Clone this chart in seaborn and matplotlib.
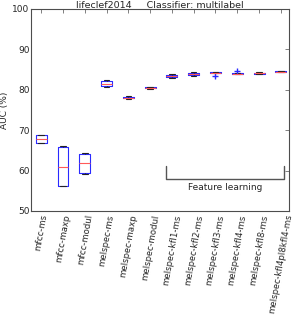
import numpy as np
import pandas as pd
import matplotlib
matplotlib.use("Agg")
import matplotlib.pyplot as plt
import seaborn as sns

# Feature sets (x categories)
features = ['mfcc-ms', 'mfcc-maxp', 'mfcc-modul', 'melspec-ms', 'melspec-maxp',
            'melspec-modul', 'melspec-kfl1-ms', 'melspec-kfl2-ms', 'melspec-kfl3-ms',
            'melspec-kfl4-ms', 'melspec-kfl8-ms', 'melspec-kfl4pl8kfl4-ms']

# AUC (%) per run
auc_mfcc_ms = [66.8, 66.9, 67.9, 68.8, 68.9]
auc_mfcc_maxp = [56.1, 56.1, 60.9, 65.9, 66.0]
auc_mfcc_modul = [59.1, 59.3, 61.8, 64.2, 64.4]
auc_melspec_ms = [80.6, 81.0, 81.5, 82.2, 82.4]
auc_melspec_maxp = [77.6, 77.9, 78.0, 78.2, 78.5]
auc_melspec_modul = [80.3, 80.4, 80.5, 80.7, 80.8]
auc_kfl1 = [82.9, 83.2, 83.4, 83.6, 83.8]
auc_kfl2 = [83.3, 83.7, 84.0, 84.2, 84.4]
auc_kfl3 = [83.5, 84.05, 84.2, 84.35, 84.45]
auc_kfl4 = [83.8, 83.9, 84.0, 84.1, 84.7]
auc_kfl8 = [83.9, 84.0, 84.1, 84.2, 84.3]
auc_kfl4pl8kfl4 = [84.3, 84.4, 84.5, 84.6, 84.7]

runs = [auc_mfcc_ms, auc_mfcc_maxp, auc_mfcc_modul, auc_melspec_ms, auc_melspec_maxp,
        auc_melspec_modul, auc_kfl1, auc_kfl2, auc_kfl3, auc_kfl4, auc_kfl8, auc_kfl4pl8kfl4]

rows = []
for f, vals in zip(features, runs):
    for v in vals:
        rows.append({'feature': f, 'auc': v})
df = pd.DataFrame(rows)

sns.set_style('white')
plt.rcParams['font.family'] = ['DejaVu Sans']

fig = plt.figure(figsize=(2.93, 3.21), dpi=100)
ax = fig.add_axes([0.105, 0.343, 0.881, 0.629])

sns.boxplot(data=df, x='feature', y='auc', order=features, ax=ax,
            fill=False, width=0.5, whis=1.5, linewidth=0.8,
            boxprops={'color': '#2a2aff'},
            medianprops={'color': '#ff5a5a'},
            whiskerprops={'color': '#222222', 'linestyle': '--'},
            capprops={'color': '#222222'},
            flierprops={'marker': '+', 'markeredgecolor': '#2a2aff', 'markersize': 4})

# Feature learning bracket
first_fl = features.index('melspec-kfl1-ms')
last_fl = len(features) - 1
bx0, bx1 = first_fl - 0.28, last_fl + 0.14
ax.plot([bx0, bx0, bx1, bx1], [61, 58, 58, 61], color='#555555', lw=1)
ax.text((bx0 + bx1) / 2, 55.7, 'Feature learning', ha='center', va='center', fontsize=6.5)

ax.set_ylim(50, 100)
ax.set_xlim(-0.48, len(features) - 1 + 0.37)
ax.set_yticks([50, 60, 70, 80, 90, 100])
ax.set_ylabel('AUC (%)', fontsize=6.5, labelpad=2)
ax.set_xlabel('')
ax.set_xticks(range(len(features)))
ax.set_xticklabels(features, rotation=80, ha='center', fontsize=6.2)
ax.tick_params(axis='y', labelsize=6.5, pad=1)
ax.tick_params(axis='x', pad=2)
ax.tick_params(direction='in', length=3, top=True, right=True, width=0.5, color='0.3')
for s in ax.spines.values():
    s.set_linewidth(0.8)
    s.set_color('0.3')
ax.set_title('lifeclef2014     Classifier: multilabel', fontsize=6.8, pad=1)

fig.savefig('out.png', dpi=100)
